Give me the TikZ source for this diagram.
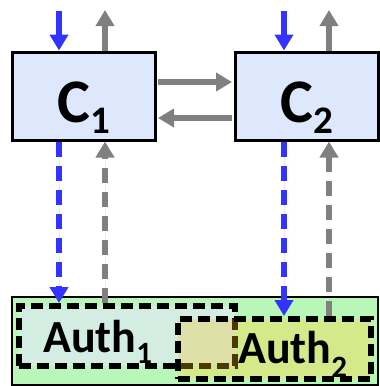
\documentclass[tikz,border=0pt]{standalone}
\usepackage{fontspec}
\setmainfont{Carlito}
\usetikzlibrary{arrows.meta}

\definecolor{cfill}{HTML}{DDE8FD}
\definecolor{storefill}{HTML}{B9F7B9}
\definecolor{aonefill}{HTML}{D3EDE3}
\definecolor{atwofill}{HTML}{D3E98A}
\definecolor{ovfill}{HTML}{DFE0A8}
\definecolor{shadeline}{HTML}{4A3A08}
\definecolor{flowblue}{HTML}{3333FF}
\definecolor{flowgray}{HTML}{808080}

\begin{document}
\begin{tikzpicture}[x=1pt,y=-1pt,
  cbox/.style={draw=black, line width=3pt, fill=cfill,
    minimum width=143pt, minimum height=88pt, inner sep=0pt,
    text height=52pt, text depth=0pt,
    font=\bfseries\fontsize{62}{62}\selectfont},
  storebox/.style={draw=black, line width=2pt, fill=storefill,
    minimum width=366pt, minimum height=88pt, inner sep=0pt},
  authbox/.style={draw=black, line width=6pt, dash pattern=on 12pt off 6pt,
    inner sep=0pt},
  authone/.style={authbox, minimum width=216pt, minimum height=60pt},
  authtwo/.style={authbox, minimum width=193pt, minimum height=60pt},
  authtext/.style={anchor=base west, inner sep=0pt,
    font=\bfseries\fontsize{46}{46}\selectfont},
  flow/.style={line width=6pt, -{Triangle[width=18pt,length=16pt]}},
  blueflow/.style={flow, draw=flowblue, fill=flowblue},
  grayflow/.style={flow, draw=flowgray, fill=flowgray},
  dashflow/.style={dash pattern=on 15pt off 9pt}]
\useasboundingbox (0,0) rectangle (380,386);

% the two components
\node[cbox] (c1) at (83.5,96) {C\raisebox{-11pt}{\fontsize{39}{39}\selectfont 1}};
\node[cbox] (c2) at (307,96) {C\raisebox{-11pt}{\fontsize{39}{39}\selectfont 2}};

% shared store with the two overlapping authorities
\node[storebox] (store) at (195,341) {};
\node[authone, fill=aonefill] (auth1) at (127,336) {};
\node[authtwo, draw=none, fill=atwofill] at (274.5,349) {};
\fill[ovfill] (178,319) rectangle (235,366);
\begin{scope}
  \clip (178,319) rectangle (371,379);
  \node[authone, draw=shadeline] at (127,336) {};
\end{scope}
\node[authtwo] (auth2) at (274.5,349) {};

\node[authtext] (t1) at (43,352) {Auth\raisebox{-11pt}{\fontsize{31}{31}\selectfont 1}};
\node[authtext] (t2) at (238,363) {Auth\raisebox{-14pt}{\fontsize{31}{31}\selectfont 2}};

% external inputs and outputs
\coordinate (in1) at (59,11);
\coordinate (out1) at (105,10);
\coordinate (in2) at (284,11);
\coordinate (out2) at (329,10);
\draw[blueflow] (in1) -- ([xshift=-24.5pt]c1.north);
\draw[grayflow] ([xshift=21.5pt]c1.north) -- (out1);
\draw[blueflow] (in2) -- ([xshift=-23pt]c2.north);
\draw[grayflow] ([xshift=22pt]c2.north) -- (out2);

% exchange between the components
\draw[grayflow, shorten <=1pt, shorten >=2pt] ([yshift=14pt]c1.east) -- ([yshift=14pt]c2.west);
\draw[grayflow, shorten <=2pt, shorten >=1.5pt] ([yshift=-22pt]c2.west) -- ([yshift=-22pt]c1.east);

% requests to and answers from the authorities
\draw[blueflow, dashflow] ([xshift=-24.5pt]c1.south) -- ([xshift=-68pt]auth1.north);
\draw[grayflow, dashflow] ([xshift=-22pt]auth1.north) -- ([xshift=21.5pt]c1.south);
\draw[blueflow, dashflow] ([xshift=-23pt]c2.south) -- ([xshift=9.5pt]auth2.north);
\draw[grayflow, dashflow] ([xshift=54.5pt]auth2.north) -- ([xshift=22pt]c2.south);
\end{tikzpicture}
\end{document}
